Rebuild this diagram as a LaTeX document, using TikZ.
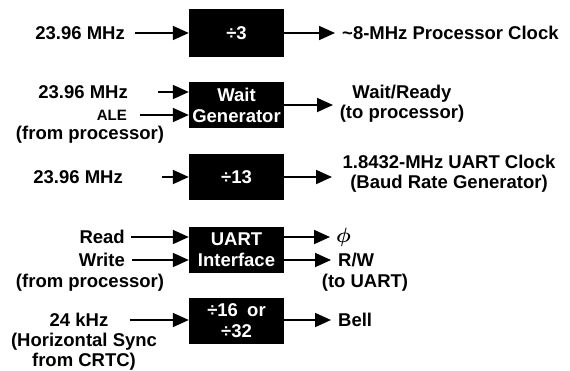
\documentclass[tikz,border=0pt]{standalone}
\usepackage{amsmath}
\usepackage{fontspec}
\setmainfont{Liberation Sans}
\usetikzlibrary{arrows.meta,positioning}

\begin{document}
\begin{tikzpicture}[
  x=1pt,y=-1pt,
  font=\fontsize{18.5}{20}\selectfont\bfseries,
  blk/.style={fill=black,text=white,minimum width=95pt,minimum height=46pt,align=center,inner sep=0pt,
    font=\fontsize{18.5}{21}\selectfont\bfseries},
  lbl/.style={align=center,inner sep=1pt},
  arr/.style={-{Triangle[length=16pt,width=14pt]},line width=1.8pt}
]
\useasboundingbox (0,0) rectangle (570,370);
% divider and logic blocks
\node[blk,minimum height=48pt] (div3) at (236.5,33) {÷3};
\node[blk] (waitgen) at (236.5,105) {Wait\\Generator};
\node[blk] (div13) at (236.5,177) {÷13};
\node[blk] (uart) at (236.5,250) {UART\\Interface};
\node[blk] (div16) at (236.5,321) {÷16\enspace or\\÷32};
% inputs
\node[lbl,anchor=east] (clkA) at (126,33) {23.96 MHz};
\node[lbl,anchor=east] (clkB) at (129,92) {23.96 MHz};
\node[lbl,anchor=east,font=\fontsize{15}{17}\selectfont\bfseries] (ale) at (128,115) {ALE};
\node[lbl] (fromproc) at (90,135) {(from processor)};
\node[lbl,anchor=east] (clkC) at (124,177) {23.96 MHz};
\node[lbl,anchor=east] (rd) at (126,237) {Read};
\node[lbl,anchor=east] (wr) at (126,260) {Write};
\node[lbl] (fromprocB) at (90,283) {(from processor)};
\node[lbl] (hsync) at (79,320) {24 kHz};
\node[lbl] (hsyncsrc) at (84,352) {(Horizontal Sync\\from CRTC)};
% outputs
\node[lbl,anchor=west] (cpuclk) at (341,33) {\textasciitilde8-MHz Processor Clock};
\node[lbl] (ready) at (402,104) {Wait/Ready\\(to processor)};
\node[lbl] (uartclk) at (449,174) {1.8432-MHz UART Clock\\(Baud Rate Generator)};
\node[lbl,anchor=west,font=\fontsize{21}{22}\selectfont] (phiout) at (335,237) {$\boldsymbol{\phi}$};
\node[lbl,anchor=west] (rw) at (337,260) {R/W};
\node[lbl] (touart) at (365,283) {(to UART)};
\node[lbl,anchor=west] (bell) at (337,320) {Bell};
% connections
\draw[arr] ([xshift=9pt]clkA.east) -- (clkA -| div3.west);
\draw[arr] ([xshift=29pt]clkB.east) -- (clkB -| waitgen.west);
\draw[arr] ([xshift=12pt]ale.east) -- (ale -| waitgen.west);
\draw[arr] ([xshift=38pt]clkC.east) -- (clkC -| div13.west);
\draw[arr] ([xshift=5pt]rd.east) -- (rd -| uart.west);
\draw[arr] ([xshift=6pt]wr.east) -- (wr -| uart.west);
\draw[arr] ([xshift=20pt]hsync.east) -- (hsync -| div16.west);
\draw[arr] (div3.east) -- ([xshift=-6pt]div3.east -| cpuclk.west);
\draw[arr] (waitgen.east) -- ([xshift=333pt]waitgen.east -| 0,0);
\draw[arr] (div13.east) -- ([xshift=332pt]div13.east -| 0,0);
\draw[arr] (phiout -| uart.east) -- ([xshift=-5pt]phiout.west);
\draw[arr] (rw -| uart.east) -- ([xshift=-6pt]rw.west);
\draw[arr] (bell -| div16.east) -- ([xshift=-6pt]bell.west);
\end{tikzpicture}
\end{document}
